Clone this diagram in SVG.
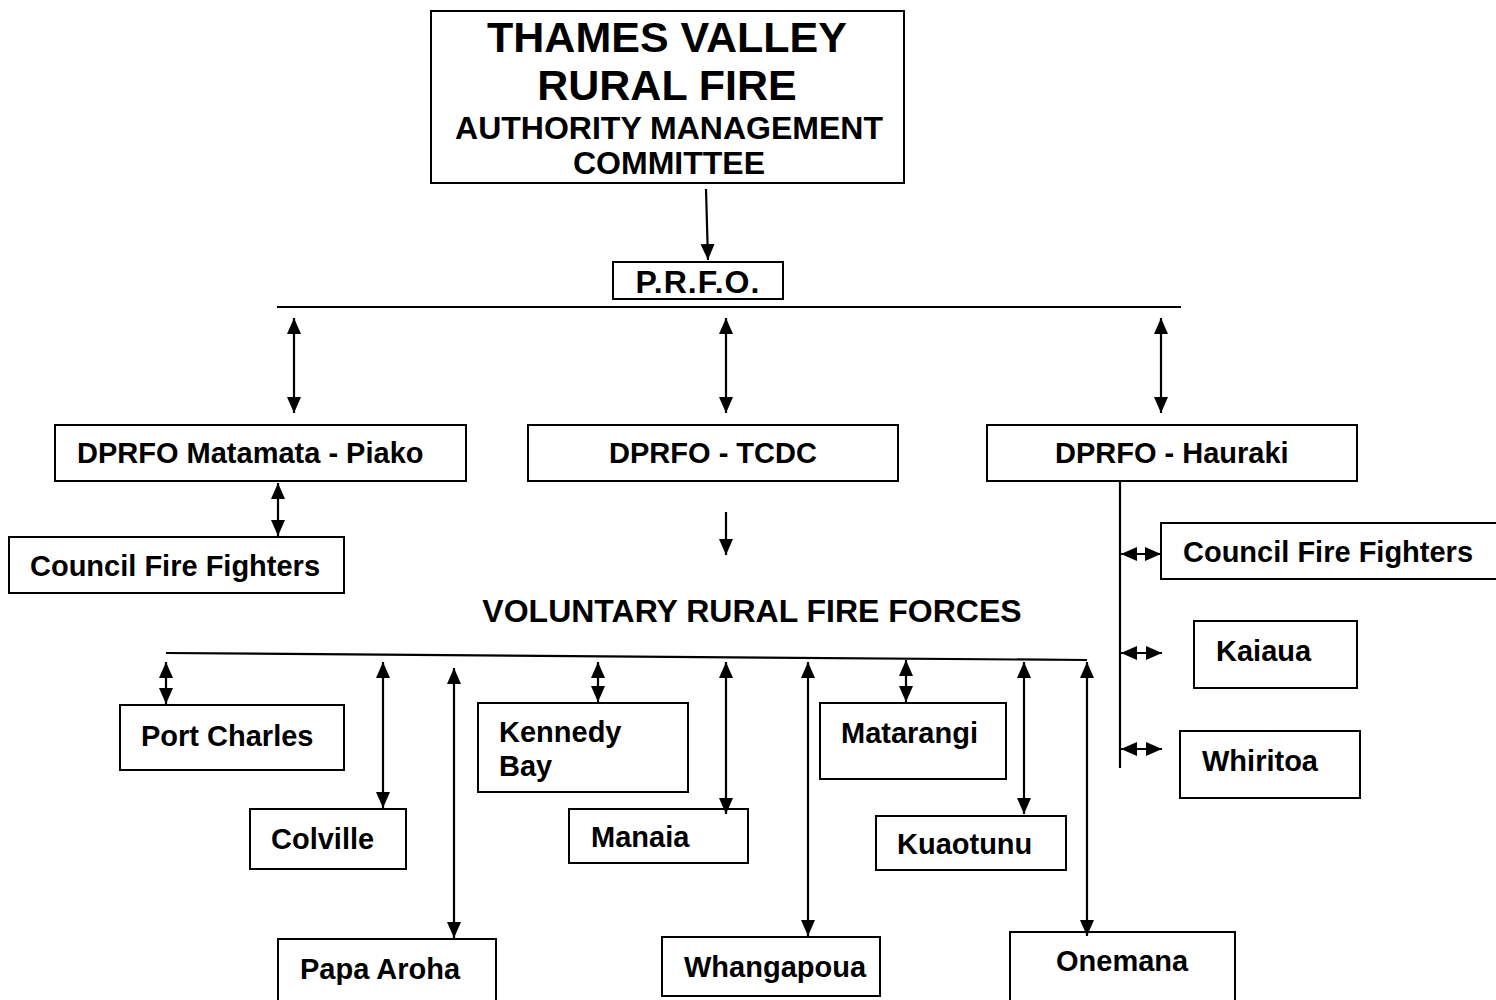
<svg xmlns="http://www.w3.org/2000/svg" width="1496" height="1000" viewBox="0 0 1496 1000">
<style>
.b{fill:#fff;stroke:#000;stroke-width:2}
.t{font-family:"Liberation Sans",Arial,sans-serif;font-weight:bold;font-size:29px;fill:#000}
.c{stroke:#000;stroke-width:2.2;fill:none}
</style>
<defs>
<marker id="ah" markerUnits="userSpaceOnUse" markerWidth="18" markerHeight="18" viewBox="0 0 18 18" refX="16" refY="9" orient="auto-start-reverse"><path d="M0,2 L16,9 L0,16 Z" fill="#000"/></marker>
</defs>
<rect width="1496" height="1000" fill="#fff"/>
<g id="top"><rect class="b" x="431" y="11" width="473" height="172"/>
<text class="t" x="667" y="52" text-anchor="middle" style="font-size:43px">THAMES VALLEY</text>
<text class="t" x="667" y="100" text-anchor="middle" style="font-size:43px">RURAL FIRE</text>
<text class="t" x="669" y="139" text-anchor="middle" style="font-size:32px">AUTHORITY MANAGEMENT</text>
<text class="t" x="669" y="174" text-anchor="middle" style="font-size:32px">COMMITTEE</text></g>
<g id="prfo"><rect class="b" x="613" y="262" width="170" height="37"/><text class="t" x="698" y="293" text-anchor="middle" style="font-size:32px;letter-spacing:1px">P.R.F.O.</text></g>
<g id="dm"><rect class="b" x="55" y="425" width="411" height="56"/><text class="t" x="77" y="463">DPRFO Matamata - Piako</text></g>
<g id="dt"><rect class="b" x="528" y="425" width="370" height="56"/><text class="t" x="713" y="463" text-anchor="middle">DPRFO - TCDC</text></g>
<g id="dh"><rect class="b" x="987" y="425" width="370" height="56"/><text class="t" x="1055" y="463">DPRFO - Hauraki</text></g>
<g id="cffl"><rect class="b" x="9" y="537" width="335" height="56"/><text class="t" x="30" y="576">Council Fire Fighters</text></g>
<g id="vrff"><text class="t" x="752" y="622" text-anchor="middle" style="font-size:32px">VOLUNTARY RURAL FIRE FORCES</text></g>
<g id="cffr"><rect class="b" x="1161" y="523" width="345" height="56"/><text class="t" x="1183" y="562">Council Fire Fighters</text></g>
<g id="kaiaua"><rect class="b" x="1194" y="621" width="163" height="67"/><text class="t" x="1216" y="661">Kaiaua</text></g>
<g id="whiritoa"><rect class="b" x="1180" y="731" width="180" height="67"/><text class="t" x="1202" y="771">Whiritoa</text></g>
<g id="portcharles"><rect class="b" x="120" y="705" width="224" height="65"/><text class="t" x="141" y="746">Port Charles</text></g>
<g id="colville"><rect class="b" x="250" y="809" width="156" height="60"/><text class="t" x="271" y="849">Colville</text></g>
<g id="papaaroha"><rect class="b" x="278" y="939" width="218" height="70"/><text class="t" x="300" y="979">Papa Aroha</text></g>
<g id="kennedy"><rect class="b" x="478" y="703" width="210" height="89"/><text class="t" x="499" y="742">Kennedy</text><text class="t" x="499" y="776">Bay</text></g>
<g id="manaia"><rect class="b" x="569" y="809" width="179" height="54"/><text class="t" x="591" y="847">Manaia</text></g>
<g id="whangapoua"><rect class="b" x="662" y="937" width="218" height="59"/><text class="t" x="684" y="977">Whangapoua</text></g>
<g id="matarangi"><rect class="b" x="820" y="703" width="186" height="76"/><text class="t" x="841" y="743">Matarangi</text></g>
<g id="kuaotunu"><rect class="b" x="876" y="816" width="190" height="54"/><text class="t" x="897" y="854">Kuaotunu</text></g>
<g id="onemana"><rect class="b" x="1010" y="932" width="225" height="78"/><text class="t" x="1056" y="971">Onemana</text></g>
<g id="connectors">
<line class="c" x1="706" y1="189" x2="708" y2="260" marker-end="url(#ah)"/>
<line class="c" x1="277" y1="307" x2="1181" y2="307"/>
<line class="c" x1="294" y1="318" x2="294" y2="413" marker-start="url(#ah)" marker-end="url(#ah)"/>
<line class="c" x1="726" y1="318" x2="726" y2="413" marker-start="url(#ah)" marker-end="url(#ah)"/>
<line class="c" x1="1161" y1="318" x2="1161" y2="413" marker-start="url(#ah)" marker-end="url(#ah)"/>
<line class="c" x1="278" y1="483" x2="278" y2="536" marker-start="url(#ah)" marker-end="url(#ah)"/>
<line class="c" x1="726" y1="512" x2="726" y2="555" marker-end="url(#ah)"/>
<line class="c" x1="1120" y1="481" x2="1120" y2="768"/>
<line class="c" x1="1121" y1="554" x2="1161" y2="554" marker-start="url(#ah)" marker-end="url(#ah)"/>
<line class="c" x1="1121" y1="653" x2="1162" y2="653" marker-start="url(#ah)" marker-end="url(#ah)"/>
<line class="c" x1="1121" y1="749" x2="1162" y2="749" marker-start="url(#ah)" marker-end="url(#ah)"/>
<line class="c" x1="166" y1="653" x2="1087" y2="660"/>
<line class="c" x1="166" y1="662" x2="166" y2="704" marker-start="url(#ah)" marker-end="url(#ah)"/>
<line class="c" x1="383" y1="662" x2="383" y2="808" marker-start="url(#ah)" marker-end="url(#ah)"/>
<line class="c" x1="454" y1="668" x2="454" y2="938" marker-start="url(#ah)" marker-end="url(#ah)"/>
<line class="c" x1="598" y1="662" x2="598" y2="702" marker-start="url(#ah)" marker-end="url(#ah)"/>
<line class="c" x1="726" y1="662" x2="726" y2="814" marker-start="url(#ah)" marker-end="url(#ah)"/>
<line class="c" x1="808" y1="662" x2="808" y2="936" marker-start="url(#ah)" marker-end="url(#ah)"/>
<line class="c" x1="906" y1="660" x2="906" y2="702" marker-start="url(#ah)" marker-end="url(#ah)"/>
<line class="c" x1="1024" y1="662" x2="1024" y2="814" marker-start="url(#ah)" marker-end="url(#ah)"/>
<line class="c" x1="1087" y1="662" x2="1087" y2="936" marker-start="url(#ah)" marker-end="url(#ah)"/>
</g>
</svg>
